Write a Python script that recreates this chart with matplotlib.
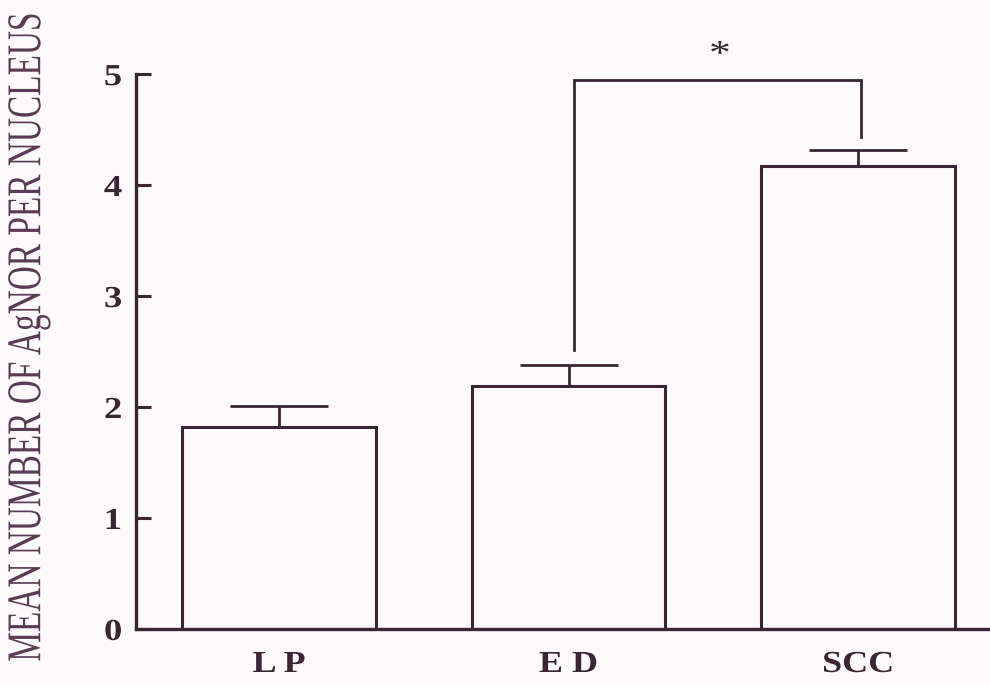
import matplotlib.pyplot as plt
import numpy as np
from matplotlib.patheffects import AbstractPathEffect
from matplotlib.transforms import Affine2D

# group means and upper standard errors
groups = ["L P", "E D", "SCC"]
means = [1.82, 2.19, 4.17]
errors = [0.19, 0.19, 0.15]

y_ticks = [0, 1, 2, 3, 4, 5]

# significance bracket between ED and SCC
bracket_x = [1.02, 2.01]
bracket_top = 4.95
bracket_feet = [2.51, 4.43]
star_x = 1.523
star_y = 5.17

INK = "#3b2433"
LABEL_INK = "#5a3b55"
PAPER = "#fcfafb"
DPI = 100
W, H = 9.9, 6.85


class Stretch(AbstractPathEffect):
    """Scale glyph outlines about a fixed point (display pixels)."""

    def __init__(self, sx, sy, center):
        super().__init__()
        self.sx, self.sy = sx, sy
        self.center = center

    def draw_path(self, renderer, gc, tpath, affine, rgbFace=None):
        cx, cy = self.center
        t = affine + Affine2D().translate(-cx, -cy).scale(self.sx, self.sy).translate(cx, cy)
        renderer.draw_path(gc, tpath, t, rgbFace)


plt.rcParams["font.family"] = ["Liberation Serif", "DejaVu Serif"]

fig = plt.figure(figsize=(W, H), dpi=DPI, facecolor=PAPER)
ax = fig.add_axes([0.1374, 0.0818, 0.8626, 0.891])
ax.set_facecolor(PAPER)
ax.set_xlim(-0.494, 2.456)
ax.set_ylim(0, 5.5)

x = np.arange(len(groups))
ax.bar(x, means, width=0.667, color=PAPER, edgecolor=INK, linewidth=2.2, zorder=2)
ax.errorbar(x, means, yerr=[np.zeros(len(errors)), errors], fmt="none",
            ecolor=INK, elinewidth=2.0, capsize=35, capthick=2.0, zorder=3)
ax.set_xlim(-0.494, 2.456)
ax.set_ylim(0, 5.5)

# bracket and asterisk
ax.plot([bracket_x[0], bracket_x[0], bracket_x[1], bracket_x[1]],
        [bracket_feet[0], bracket_top, bracket_top, bracket_feet[1]],
        color=INK, linewidth=2.0, solid_joinstyle="miter", zorder=3)
ax.set_xlim(-0.494, 2.456)
ax.set_ylim(0, 5.5)
sx_px, sy_px = ax.transData.transform((star_x, star_y))
ax.text(star_x, star_y, "*", ha="center", va="center", fontsize=25,
        color=INK, path_effects=[Stretch(1.25, 1.0, (sx_px, sy_px))])

for side in ["top", "right"]:
    ax.spines[side].set_visible(False)
ax.spines["left"].set_bounds(0, 5)
for side in ["left", "bottom"]:
    ax.spines[side].set_color(INK)
    ax.spines[side].set_linewidth(2.4)

# y ticks: bold digits, widened about their right edge
ypad = 10
ax.set_yticks(y_ticks)
ax.set_yticklabels([str(t) for t in y_ticks], fontsize=22, fontweight="bold",
                   color=INK)
ax.tick_params(axis="y", direction="in", length=11, width=2.2, color=INK,
               pad=ypad)
right_px = ax.get_position().x0 * W * DPI - ypad * DPI / 72
for lab in ax.get_yticklabels():
    lab.set_verticalalignment("center_baseline")
    lab.set_path_effects([Stretch(1.2, 1.0, (right_px, 0))])

# group names under the bars
ax.set_xticks(x)
ax.set_xticklabels([])
ax.tick_params(axis="x", length=0)
for i, name in enumerate(groups):
    cx, cy = ax.transData.transform((i, -0.32))
    ax.text(i, -0.32, name, ha="center", va="center", fontsize=22,
            fontweight="bold", color=INK, clip_on=False,
            path_effects=[Stretch(1.18, 1.0, (cx, cy))])

# y label: widen the letters to give the tall condensed look
lx, ly = 0.0285, 0.509
fig.text(lx, ly, "MEAN NUMBER OF AgNOR PER NUCLEUS", rotation=90,
         ha="center", va="center", fontsize=24, color=LABEL_INK,
         path_effects=[Stretch(1.45, 1.0, (lx * W * DPI, ly * H * DPI))])

fig.savefig("out.png", dpi=DPI, facecolor=PAPER)
